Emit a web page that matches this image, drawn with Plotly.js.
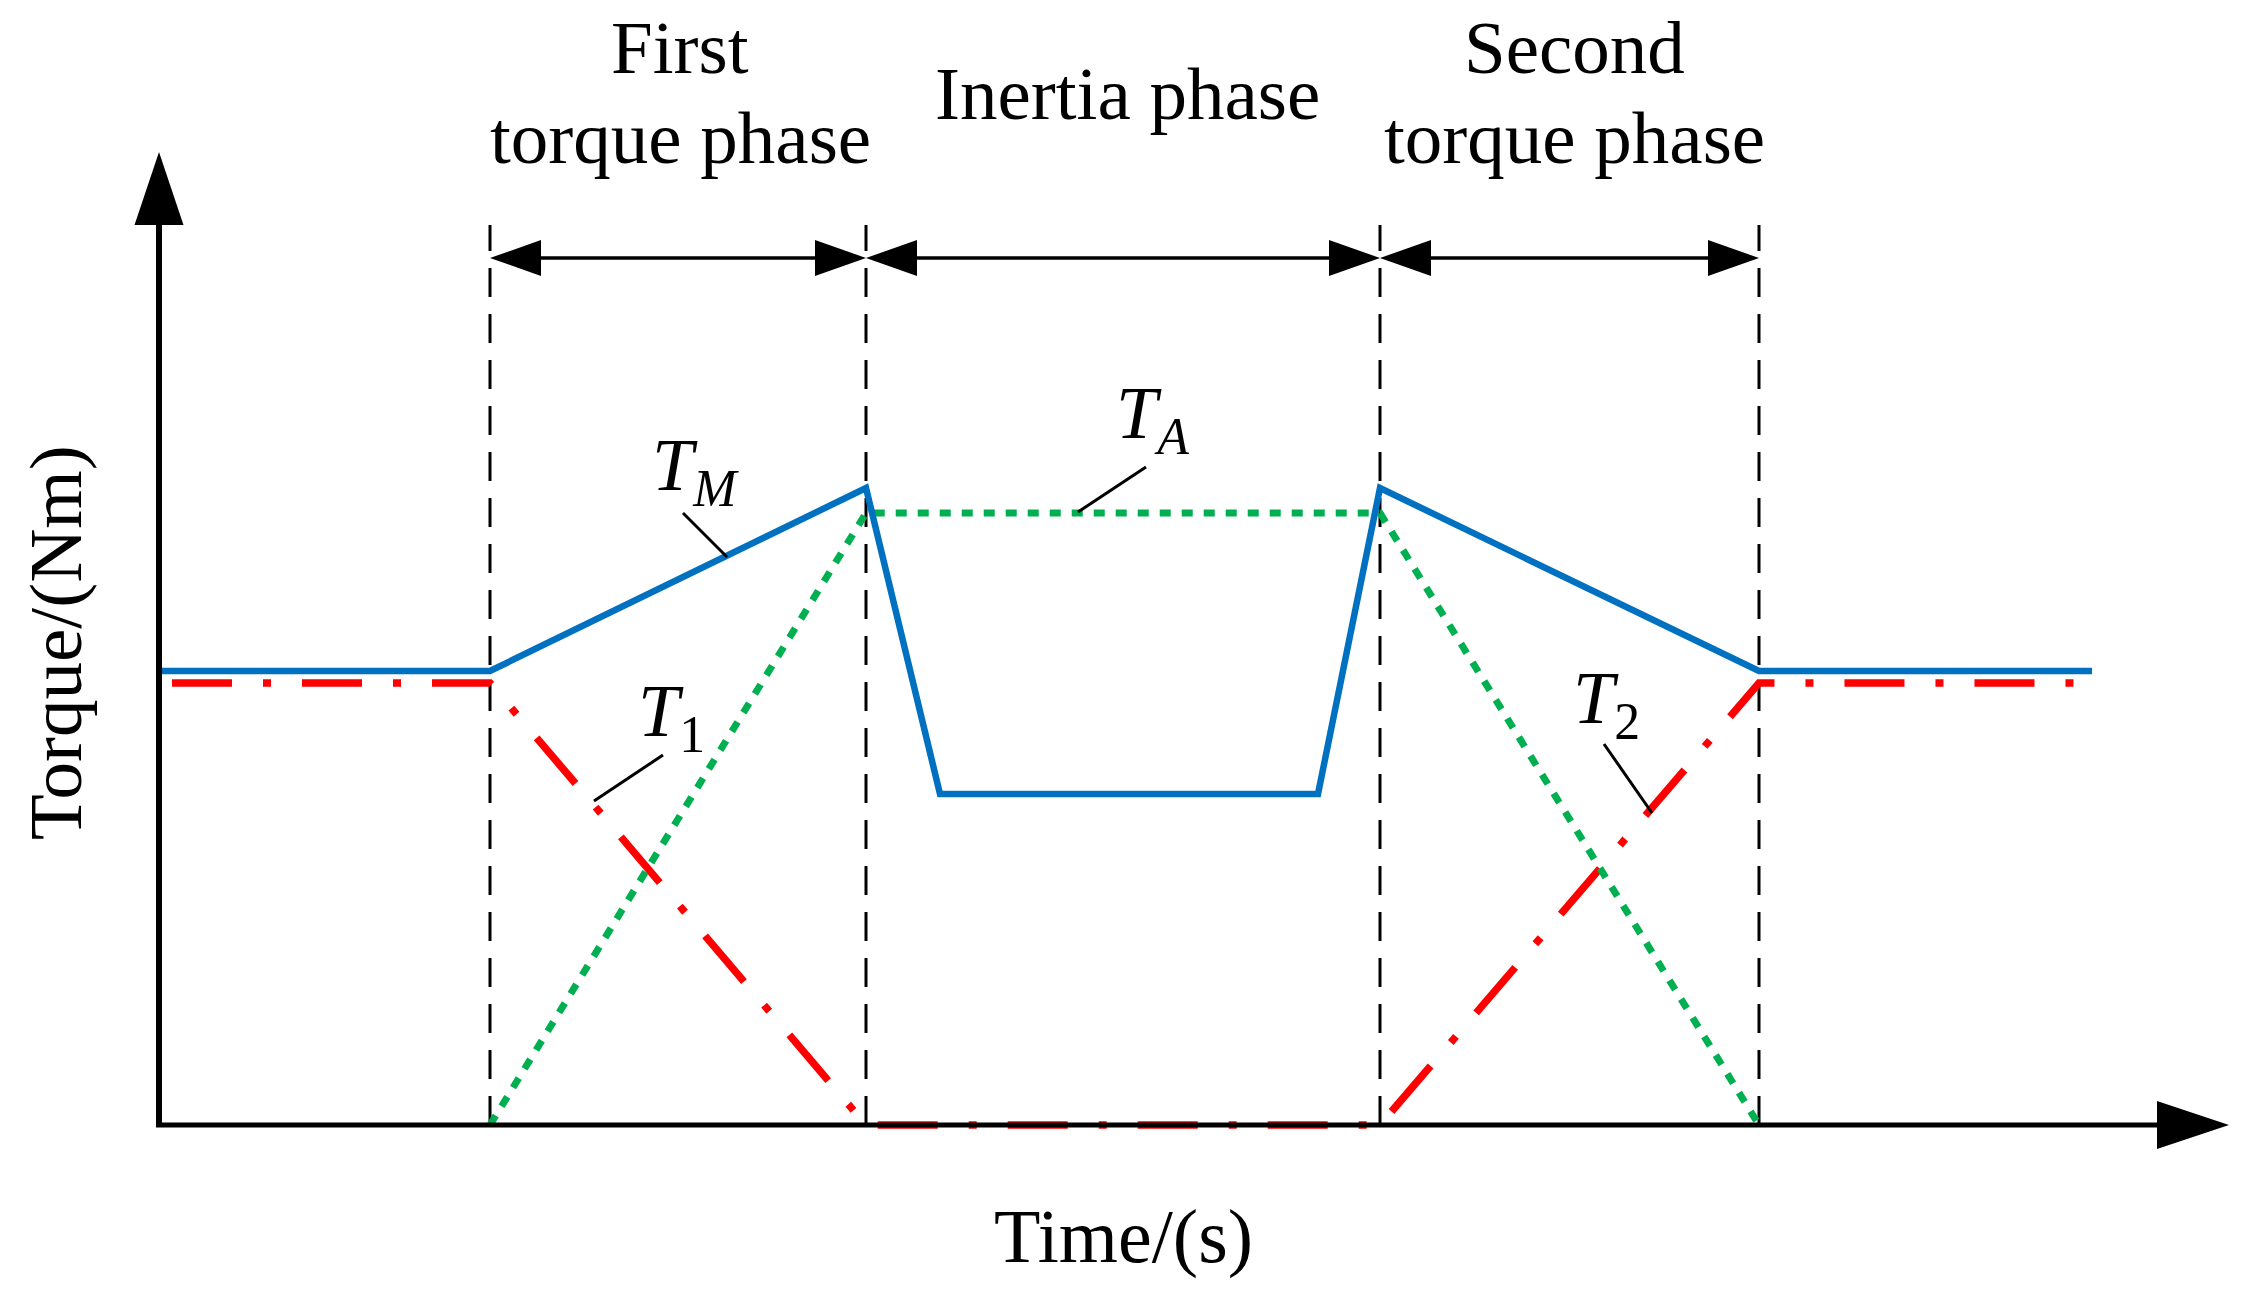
<!DOCTYPE html>
<html>
<head>
<meta charset="utf-8">
<script src="https://cdn.plot.ly/plotly-3.0.1.min.js"></script>
<style>html,body{margin:0;padding:0;background:#fff;}#chart{width:2254px;height:1295px;}</style>
</head>
<body>
<div id="chart"></div>
<script>
// ---- data (time in s-like units, torque in Nm-like units) ----
const phaseBounds = [3.31, 7.07, 12.21, 16.00];
const phaseNames = [["First", "torque phase"], ["Inertia phase"], ["Second", "torque phase"]];

const tmTime   = [0, 3.31, 7.07, 7.81, 11.59, 12.21, 16.00, 19.33];
const tmTorque = [4.54, 4.54, 6.37, 3.31, 3.31, 6.37, 4.54, 4.54];

const t12Time   = [0.13, 3.31, 7.07, 12.21, 16.00, 19.34];
const t12Torque = [4.42, 4.42, 0, 0, 4.42, 4.42];

const taTime   = [3.31, 7.07, 12.21, 16.00];
const taTorque = [0, 6.12, 6.12, 0];

const xTitle = "Time/(s)";
const yTitle = "Torque/(Nm)";

// curve labels: text, label centre, leader start, leader end
const curveLabels = [
  {text: "<i>T</i><sub><i>M</i></sub>", x: 5.36, y: 6.55, lx0: 5.24, ly0: 6.12, lx1: 5.68, ly1: 5.68},
  {text: "<i>T</i><sub><i>A</i></sub>", x: 9.93, y: 7.07, lx0: 9.87, ly0: 6.58, lx1: 9.19, ly1: 6.13},
  {text: "<i>T</i><sub>1</sub>",        x: 5.12, y: 4.09, lx0: 5.04, ly0: 3.70, lx1: 4.35, ly1: 3.24},
  {text: "<i>T</i><sub>2</sub>",        x: 14.47, y: 4.22, lx0: 14.45, ly0: 3.81, lx1: 14.93, ly1: 3.12}
];

// ---- layout geometry ----
const FONT = "Liberation Serif, Times New Roman, serif";
const dashTop = 9.0, spanY = 8.67;
const yAxisTop = 9.0, yArrowTip = 9.73, yArrowHalf = 0.245;
const xAxisEnd = 19.98, xArrowTip = 20.70, xArrowHalf = 0.24;
const headLen = 0.51, headHalf = 0.18;

const shapes = [];
const annotations = [];

// vertical dashed phase boundaries
phaseBounds.forEach(b => {
  shapes.push({type: "line", xref: "x", yref: "y", x0: b, x1: b, y0: 0, y1: dashTop,
    line: {color: "#000", width: 3, dash: "29px,17px"}, layer: "below"});
});

// double arrows between boundaries
function tri(tipX, tipY, baseX, half) {
  return `M ${tipX} ${tipY} L ${baseX} ${tipY + half} L ${baseX} ${tipY - half} Z`;
}
for (let i = 0; i < phaseBounds.length - 1; i++) {
  const a = phaseBounds[i], b = phaseBounds[i + 1];
  shapes.push({type: "line", xref: "x", yref: "y", x0: a + 0.2, x1: b - 0.2, y0: spanY, y1: spanY,
    line: {color: "#000", width: 3.5}});
  shapes.push({type: "path", xref: "x", yref: "y", path: tri(a, spanY, a + headLen, headHalf),
    fillcolor: "#000", line: {width: 0}});
  shapes.push({type: "path", xref: "x", yref: "y", path: tri(b, spanY, b - headLen, headHalf),
    fillcolor: "#000", line: {width: 0}});
}

// axes with arrow heads
shapes.push({type: "line", xref: "x", yref: "y", x0: 0, x1: 0, y0: 0, y1: yAxisTop + 0.02,
  line: {color: "#000", width: 6}});
shapes.push({type: "path", xref: "x", yref: "y",
  path: `M 0 ${yArrowTip} L ${yArrowHalf} ${yAxisTop} L ${-yArrowHalf} ${yAxisTop} Z`,
  fillcolor: "#000", line: {width: 0}});
shapes.push({type: "line", xref: "x", yref: "y", x0: -0.03, x1: xAxisEnd + 0.02, y0: 0, y1: 0,
  line: {color: "#000", width: 5}});
shapes.push({type: "path", xref: "x", yref: "y",
  path: `M ${xArrowTip} 0 L ${xAxisEnd} ${xArrowHalf} L ${xAxisEnd} ${-xArrowHalf} Z`,
  fillcolor: "#000", line: {width: 0}});

// leader lines + labels
curveLabels.forEach(l => {
  shapes.push({type: "line", xref: "x", yref: "y", x0: l.lx0, y0: l.ly0, x1: l.lx1, y1: l.ly1,
    line: {color: "#000", width: 3}});
  annotations.push({xref: "x", yref: "y", x: l.x, y: l.y, text: l.text, showarrow: false,
    xanchor: "center", yanchor: "middle", font: {family: FONT, size: 74, color: "#000"}});
});

// phase titles (centre x, line centre ys)
const phaseTitlePos = [[5.21, [10.78, 9.88]], [9.68, [10.32]], [14.15, [10.78, 9.88]]];
phaseNames.forEach((lines, i) => {
  lines.forEach((t, j) => {
    annotations.push({xref: "x", yref: "y", x: phaseTitlePos[i][0], y: phaseTitlePos[i][1][j],
      text: t, showarrow: false, xanchor: "center", yanchor: "middle",
      font: {family: FONT, size: 75, color: "#000"}});
  });
});

// axis titles
annotations.push({xref: "x", yref: "y", x: 9.64, y: -1.11, text: xTitle, showarrow: false,
  xanchor: "center", yanchor: "middle", font: {family: FONT, size: 76, color: "#000"}});
annotations.push({xref: "x", yref: "y", x: -1.04, y: 4.82, text: yTitle, showarrow: false,
  textangle: -90, xanchor: "center", yanchor: "middle", font: {family: FONT, size: 75, color: "#000"}});

const traces = [
  {x: t12Time, y: t12Torque, mode: "lines", name: "T1/T2",
   line: {color: "#FF0000", width: 7.5, dash: "60px,31px,8px,31px"}, hoverinfo: "skip"},
  {x: taTime, y: taTorque, mode: "lines", name: "TA",
   line: {color: "#00B050", width: 7, dash: "11px,11px"}, hoverinfo: "skip"},
  {x: tmTime, y: tmTorque, mode: "lines", name: "TM",
   line: {color: "#0070C0", width: 6.5}, hoverinfo: "skip"}
];

const axisCommon = {showgrid: false, zeroline: false, showticklabels: false, ticks: "",
  showline: false, fixedrange: true};

const layout = {
  width: 2254, height: 1295,
  margin: {l: 0, r: 0, t: 0, b: 0},
  paper_bgcolor: "#fff", plot_bgcolor: "#fff",
  showlegend: false,
  xaxis: Object.assign({range: [-1.59, 20.95]}, axisCommon),
  yaxis: Object.assign({range: [-1.70, 11.25]}, axisCommon),
  shapes: shapes,
  annotations: annotations
};

Plotly.newPlot("chart", traces, layout, {displayModeBar: false, staticPlot: true});
</script>
</body>
</html>
